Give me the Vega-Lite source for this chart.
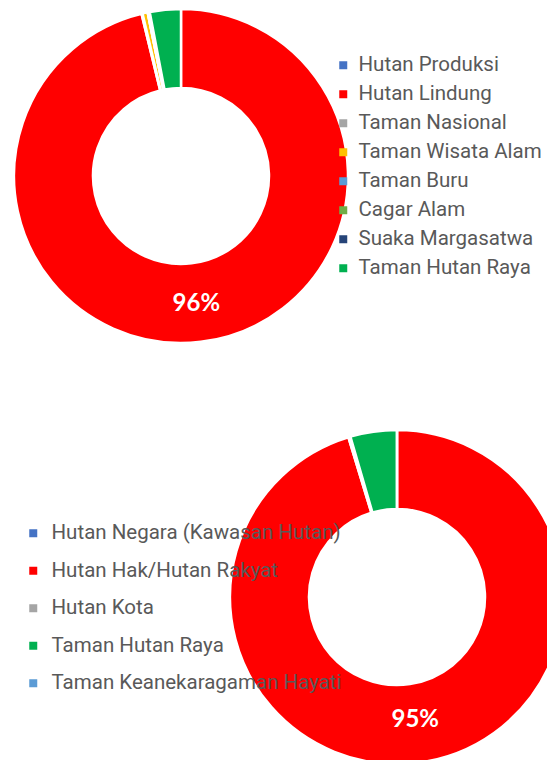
{
  "$schema": "https://vega.github.io/schema/vega-lite/v6.json",
  "width": 547,
  "height": 760,
  "autosize": {"type": "none"},
  "padding": 0,
  "background": "white",
  "config": {"view": {"stroke": null}},
  "datasets": {
    "top": [
      {"chart": "top", "i": 1, "category": "Hutan Produksi", "value": 0.0},
      {"chart": "top", "i": 2, "category": "Hutan Lindung", "value": 0.962},
      {"chart": "top", "i": 3, "category": "Taman Nasional", "value": 0.001},
      {"chart": "top", "i": 4, "category": "Taman Wisata Alam", "value": 0.005},
      {"chart": "top", "i": 5, "category": "Taman Buru", "value": 0.0},
      {"chart": "top", "i": 6, "category": "Cagar Alam", "value": 0.0015},
      {"chart": "top", "i": 7, "category": "Suaka Margasatwa", "value": 0.0005},
      {"chart": "top", "i": 8, "category": "Taman Hutan Raya", "value": 0.030}
    ],
    "bottom": [
      {"chart": "bottom", "i": 1, "category": "Hutan Negara (Kawasan Hutan)", "value": 0.0},
      {"chart": "bottom", "i": 2, "category": "Hutan Hak/Hutan Rakyat", "value": 0.953},
      {"chart": "bottom", "i": 3, "category": "Hutan Kota", "value": 0.002},
      {"chart": "bottom", "i": 4, "category": "Taman Hutan Raya", "value": 0.045},
      {"chart": "bottom", "i": 5, "category": "Taman Keanekaragaman Hayati", "value": 0.0}
    ]
  },
  "layer": [
    {
      "data": {"name": "top"},
      "mark": {"type": "arc", "radius": 167, "radius2": 88, "stroke": "white", "strokeWidth": 2.5},
      "encoding": {
        "x": {"field": "chart", "type": "nominal", "axis": null, "scale": {"type": "point", "domain": ["top", "bottom"], "range": [181, 397], "padding": 0}},
        "y": {"field": "chart", "type": "nominal", "axis": null, "scale": {"type": "point", "domain": ["top", "bottom"], "range": [176, 597], "padding": 0}},
        "theta": {"field": "value", "type": "quantitative", "stack": true, "scale": {"domain": [0, 1]}},
        "order": {"field": "i", "type": "quantitative"},
        "color": {
          "field": "category", "type": "nominal",
          "scale": {
            "domain": ["Hutan Produksi", "Hutan Lindung", "Taman Nasional", "Taman Wisata Alam", "Taman Buru", "Cagar Alam", "Suaka Margasatwa", "Taman Hutan Raya"],
            "range": ["#4472C4", "#FF0000", "#A5A5A5", "#FFC000", "#5B9BD5", "#70AD47", "#264478", "#00B050"]
          },
          "legend": {
            "orient": "none", "legendX": 333, "legendY": 55, "title": null,
            "symbolType": "square", "symbolSize": 64, "symbolStrokeWidth": 0,
            "labelFont": "Roboto", "labelFontSize": 20.5, "labelColor": "#595959",
            "rowPadding": 8, "labelOffset": 5, "labelLimit": 400
          }
        }
      }
    },
    {
      "data": {"name": "top"},
      "transform": [{"filter": "datum.value > 0.5"}],
      "mark": {"type": "text", "radius": 129, "font": "Lato", "fontSize": 24, "fontWeight": "bold", "color": "white", "align": "center", "baseline": "middle"},
      "encoding": {
        "x": {"field": "chart", "type": "nominal"},
        "y": {"field": "chart", "type": "nominal"},
        "theta": {"field": "value", "type": "quantitative", "stack": null, "scale": {"domain": [0, 2]}},
        "text": {"field": "value", "type": "quantitative", "format": ".0%"}
      }
    },
    {
      "data": {"name": "bottom"},
      "mark": {"type": "arc", "radius": 167, "radius2": 88, "stroke": "white", "strokeWidth": 2.5},
      "encoding": {
        "x": {"field": "chart", "type": "nominal"},
        "y": {"field": "chart", "type": "nominal"},
        "theta": {"field": "value", "type": "quantitative", "stack": true, "scale": {"domain": [0, 1]}},
        "order": {"field": "i", "type": "quantitative"},
        "color": {
          "field": "category", "type": "nominal",
          "scale": {
            "domain": ["Hutan Negara (Kawasan Hutan)", "Hutan Hak/Hutan Rakyat", "Hutan Kota", "Taman Hutan Raya", "Taman Keanekaragaman Hayati"],
            "range": ["#4472C4", "#FF0000", "#A5A5A5", "#00B050", "#5B9BD5"]
          },
          "legend": {
            "orient": "none", "legendX": 23, "legendY": 523, "title": null,
            "symbolType": "square", "symbolSize": 64, "symbolStrokeWidth": 0,
            "labelFont": "Roboto", "labelFontSize": 20.5, "labelColor": "#595959",
            "rowPadding": 16.5, "labelOffset": 8, "labelLimit": 400
          }
        }
      }
    },
    {
      "data": {"name": "bottom"},
      "transform": [{"filter": "datum.value > 0.5"}],
      "mark": {"type": "text", "radius": 124, "font": "Lato", "fontSize": 24, "fontWeight": "bold", "color": "white", "align": "center", "baseline": "middle"},
      "encoding": {
        "x": {"field": "chart", "type": "nominal"},
        "y": {"field": "chart", "type": "nominal"},
        "theta": {"field": "value", "type": "quantitative", "stack": null, "scale": {"domain": [0, 2]}},
        "text": {"field": "value", "type": "quantitative", "format": ".0%"}
      }
    }
  ],
  "resolve": {"scale": {"color": "independent", "theta": "independent"}}
}
